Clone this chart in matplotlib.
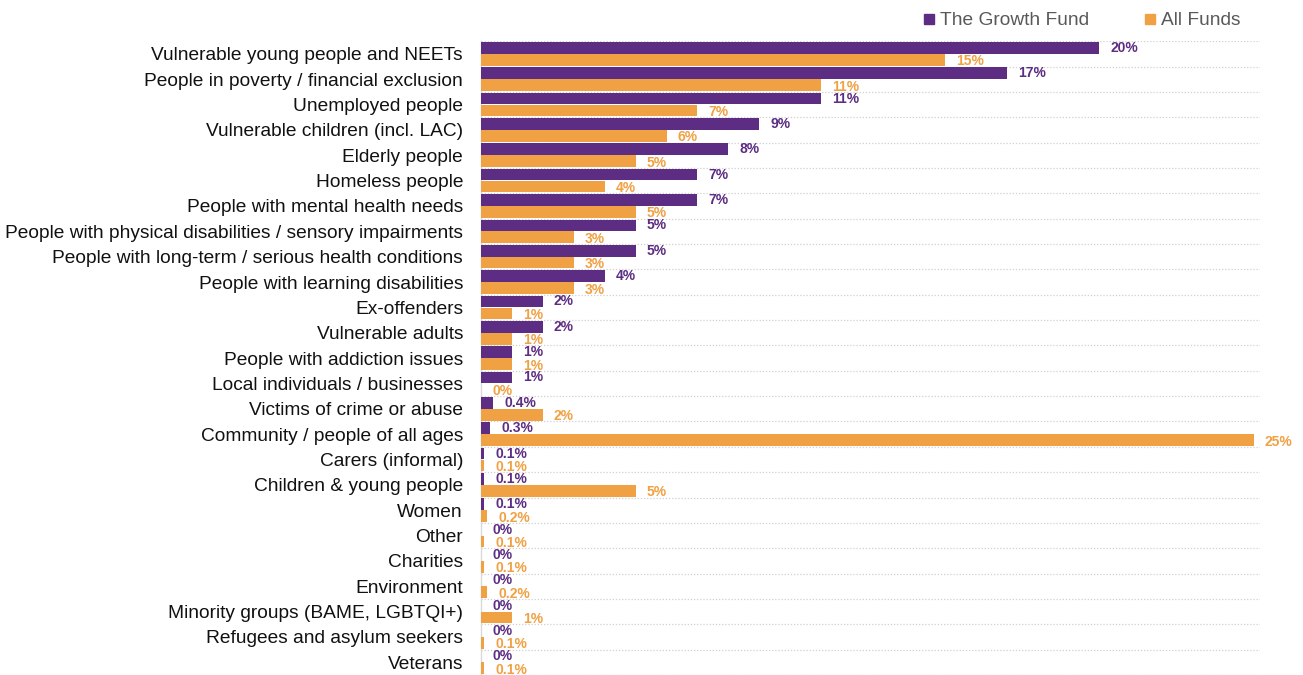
import matplotlib
matplotlib.use("Agg")
import matplotlib.pyplot as plt
from matplotlib.lines import Line2D
import numpy as np

plt.rcParams["font.family"] = ["Liberation Sans", "DejaVu Sans"]

PURPLE = "#5c2d82"
ORANGE = "#f0a143"
GRID = "#d0d0d0"

categories = [
    "Vulnerable young people and NEETs",
    "People in poverty / financial exclusion",
    "Unemployed people",
    "Vulnerable children (incl. LAC)",
    "Elderly people",
    "Homeless people",
    "People with mental health needs",
    "People with physical disabilities / sensory impairments",
    "People with long-term / serious health conditions",
    "People with learning disabilities",
    "Ex-offenders",
    "Vulnerable adults",
    "People with addiction issues",
    "Local individuals / businesses",
    "Victims of crime or abuse",
    "Community / people of all ages",
    "Carers (informal)",
    "Children & young people",
    "Women",
    "Other",
    "Charities",
    "Environment",
    "Minority groups (BAME, LGBTQI+)",
    "Refugees and asylum seekers",
    "Veterans",
]
growth_fund = [20, 17, 11, 9, 8, 7, 7, 5, 5, 4, 2, 2, 1, 1, 0.4, 0.3,
               0.1, 0.1, 0.1, 0, 0, 0, 0, 0, 0]
all_funds = [15, 11, 7, 6, 5, 4, 5, 3, 3, 3, 1, 1, 1, 0, 2, 25,
             0.1, 5, 0.2, 0.1, 0.1, 0.2, 1, 0.1, 0.1]
series_names = ["The Growth Fund", "All Funds"]


def pct(v):
    return f"{v:.0f}%" if float(v).is_integer() else f"{v:g}%"


fig = plt.figure(figsize=(13.03, 6.75), dpi=100)
ax = fig.add_axes([0.3692, 0.0, 0.5978, 0.939])

y = np.arange(len(categories))
h = 0.46
off = 0.235
ax.barh(y - off, growth_fund, height=h, color=PURPLE, zorder=3)
ax.barh(y + off, all_funds, height=h, color=ORANGE, zorder=3)

# value labels just past the end of each bar
for yi, g, a in zip(y, growth_fund, all_funds):
    ax.annotate(pct(g), (g, yi - off), xytext=(8, 0), textcoords="offset points",
                va="center", ha="left", fontsize=10, fontweight="bold",
                color=PURPLE)
    ax.annotate(pct(a), (a, yi + off + 0.06), xytext=(8, 0),
                textcoords="offset points", va="center", ha="left",
                fontsize=10, fontweight="bold", color=ORANGE)

ax.set_xlim(0, 25.2)
ax.set_ylim(len(categories) - 0.5, -0.5)
ax.set_yticks(y)
ax.set_yticklabels(categories, fontsize=13.8, color="#111111")
ax.tick_params(axis="y", length=0, pad=13)
ax.set_xticks([])

# dotted separators between categories
for b in np.arange(-0.5, len(categories), 1.0):
    ax.axhline(b, color=GRID, linestyle=(0, (1, 1.5)), linewidth=0.9, zorder=1)

for side in ("top", "right", "bottom"):
    ax.spines[side].set_visible(False)
ax.spines["left"].set_color("#d9d9d9")
ax.spines["left"].set_linewidth(1.0)

handles = [Line2D([], [], marker="s", linestyle="none", markersize=6.5,
                  color=c) for c in (PURPLE, ORANGE)]
fig.legend(handles, series_names, loc="upper right",
           bbox_to_anchor=(0.965, 1.008), ncol=2, frameon=False,
           fontsize=13.8, labelcolor="#595959", handletextpad=0.15,
           columnspacing=2.8, handlelength=0.8)

fig.savefig("out.png", dpi=100)
